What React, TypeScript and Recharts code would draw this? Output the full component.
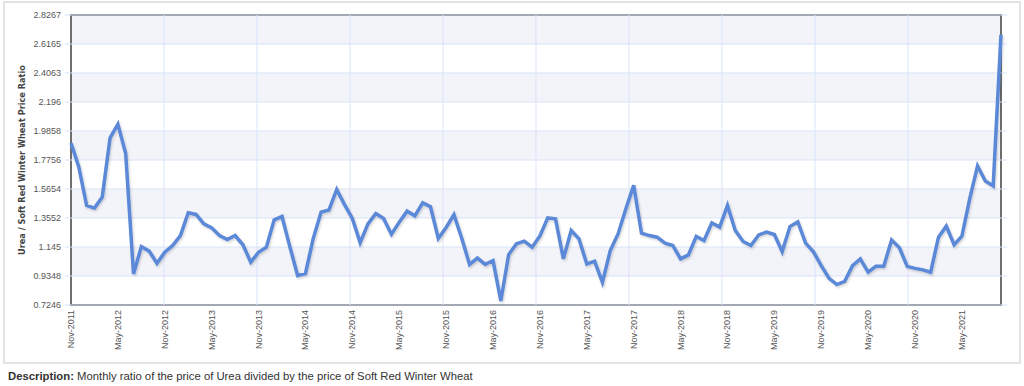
import React from 'react';
import { LineChart, Line, XAxis, YAxis, ReferenceArea, ReferenceLine } from 'recharts';

// monthly ratio, Nov-2011 .. Oct-2021
const ratio = [
  1.899, 1.725, 1.446, 1.427, 1.507, 1.936, 2.035, 1.822, 0.95, 1.148,
  1.115, 1.027, 1.107, 1.156, 1.228, 1.393, 1.381, 1.313, 1.284, 1.228,
  1.199, 1.228, 1.161, 1.035, 1.107, 1.144, 1.342, 1.366, 1.148, 0.938,
  0.953, 1.207, 1.398, 1.413, 1.562, 1.452, 1.352, 1.177, 1.313, 1.388,
  1.352, 1.238, 1.325, 1.405, 1.371, 1.465, 1.437, 1.207, 1.287, 1.38,
  1.208, 1.019, 1.065, 1.019, 1.047, 0.754, 1.09, 1.168, 1.187, 1.144,
  1.225, 1.356, 1.349, 1.059, 1.265, 1.204, 1.022, 1.042, 0.889, 1.119,
  1.24, 1.422, 1.592, 1.245, 1.228, 1.216, 1.173, 1.156, 1.059, 1.088,
  1.221, 1.192, 1.32, 1.289, 1.446, 1.265, 1.185, 1.156, 1.233, 1.253,
  1.236, 1.112, 1.293, 1.328, 1.173, 1.11, 1.01, 0.918, 0.873, 0.896,
  1.01, 1.059, 0.962, 1.006, 1.006, 1.195, 1.139, 1.005, 0.99, 0.979,
  0.962, 1.216, 1.296, 1.161, 1.224, 1.495, 1.732, 1.623, 1.587, 2.685,
];

const tickLabels = [
  'Nov-2011', 'May-2012', 'Nov-2012', 'May-2013', 'Nov-2013', 'May-2014', 'Nov-2014',
  'May-2015', 'Nov-2015', 'May-2016', 'Nov-2016', 'May-2017', 'Nov-2017', 'May-2018',
  'Nov-2018', 'May-2019', 'Nov-2019', 'May-2020', 'Nov-2020', 'May-2021',
];
const tickEvery = 6;

const yTicks = [0.7246, 0.9348, 1.145, 1.3552, 1.5654, 1.7756, 1.9858, 2.196, 2.4063, 2.6165, 2.8267];

// vertical grid splits the x range in ten
const gridX = [11.9, 23.8, 35.7, 47.6, 59.5, 71.4, 83.3, 95.2, 107.1];

const data = ratio.map((v, i) => ({ idx: i, value: v }));
const xTicks = tickLabels.map((_, i) => i * tickEvery);
const bands = yTicks.slice(1).filter((_, i) => i % 2 === 0).map((t, i) => [t, yTicks[i * 2 + 2]]);

const font = '"Liberation Sans", Arial, sans-serif';
const gridColor = '#d9e4f8';

const MonthTick = (props: any) => {
  const { x, y, payload } = props;
  const label = tickLabels[Math.round(payload.value / tickEvery)];
  return (
    <text
      transform={`translate(${x},${y}) rotate(-90)`}
      textAnchor="end"
      dominantBaseline="central"
      fontSize={9}
      fill="#555"
      fontFamily={font}
    >
      {label}
    </text>
  );
};

export default function App() {
  return (
    <div style={{ position: 'absolute', left: 0, top: 0, width: 1024, height: 386, background: '#fff', fontFamily: font }}>
      <div
        style={{
          position: 'absolute', left: 3, top: 1, width: 1018, height: 363,
          border: '2px solid #e3e3e3', boxSizing: 'border-box',
        }}
      />
      <div style={{ position: 'absolute', left: 0, top: 0 }}>
        <LineChart width={1024} height={360} data={data} margin={{ top: 15, right: 17, bottom: 5, left: 0 }}>
          <defs>
            <filter id="lineShadow" x="-5%" y="-5%" width="110%" height="120%">
              <feDropShadow dx="1" dy="1.5" stdDeviation="1" floodColor="#000" floodOpacity="0.18" />
            </filter>
          </defs>
          <XAxis
            type="number"
            dataKey="idx"
            domain={[0, ratio.length - 1]}
            ticks={xTicks}
            interval={0}
            padding={{ left: 6, right: 6 }}
            tick={<MonthTick />}
            tickLine={false}
            axisLine={false}
            tickSize={0}
            tickMargin={5}
            height={50}
          />
          <YAxis
            type="number"
            domain={[yTicks[0], yTicks[yTicks.length - 1]]}
            ticks={yTicks}
            interval={0}
            tickFormatter={(v: number) => String(v)}
            tick={{ fontSize: 9, fill: '#555', fontFamily: font }}
            tickLine={false}
            axisLine={false}
            tickSize={0}
            tickMargin={4}
            width={65}
            label={{
              value: 'Urea / Soft Red Winter Wheat Price Ratio',
              angle: -90,
              position: 'insideLeft',
              offset: 22,
              style: { textAnchor: 'middle', fontSize: 8.2, fontWeight: 'bold', fill: '#444', fontFamily: '"DejaVu Sans", Verdana, sans-serif' },
            }}
          />
          {bands.map(([a, b]) => (
            <ReferenceArea key={`band-${a}`} y1={a} y2={b} fill="#f2f4fa" fillOpacity={1} stroke="none" />
          ))}
          {yTicks.map((t) => (
            <ReferenceLine key={`h-${t}`} y={t} stroke={gridColor} strokeWidth={1} />
          ))}
          {gridX.map((g) => (
            <ReferenceLine key={`v-${g}`} x={g} stroke={gridColor} strokeWidth={1} />
          ))}
          <Line
            type="linear"
            dataKey="value"
            stroke="#5b88d8"
            strokeWidth={3.5}
            dot={false}
            activeDot={false}
            filter="url(#lineShadow)"
            isAnimationActive={false}
          />
          <ReferenceArea
            x1={0}
            x2={ratio.length - 1}
            y1={yTicks[0]}
            y2={yTicks[yTicks.length - 1]}
            fill="none"
            stroke="#6e6e6e"
            strokeWidth={2}
          />
        </LineChart>
      </div>
      <div style={{ position: 'absolute', left: 8, top: 370, fontSize: 11.3, color: '#333' }}>
        <b>Description:</b> Monthly ratio of the price of Urea divided by the price of Soft Red Winter Wheat
      </div>
    </div>
  );
}
